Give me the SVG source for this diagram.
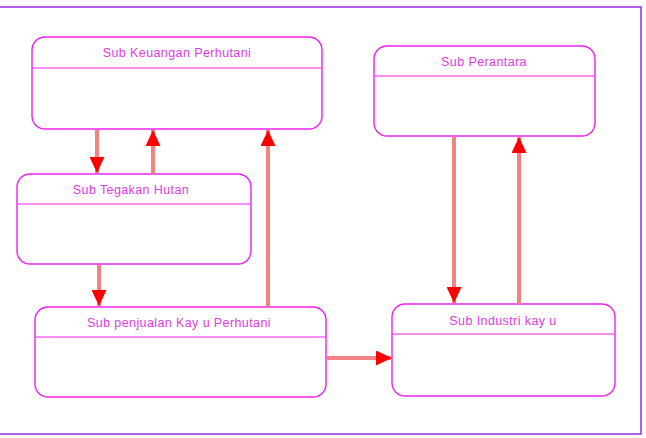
<svg xmlns="http://www.w3.org/2000/svg" width="646" height="438" viewBox="0 0 646 438">
<style>
.node rect{fill:#fff;stroke:#ee22ee;stroke-width:1.4}
.node line{stroke:#ee22ee;stroke-width:1.2}
.node text{font-family:"Liberation Sans",Arial,sans-serif;font-size:12.5px;letter-spacing:0.4px;fill:#e03ce0;text-anchor:middle}
.conn line{stroke:#f58282;stroke-width:4}
</style>
<defs>
<marker id="ah" viewBox="0 0 16 15" refX="16" refY="7.5" markerWidth="16" markerHeight="15" markerUnits="userSpaceOnUse" orient="auto">
<path d="M0,0 L16,7.5 L0,15 Z" fill="#ff0000"/>
</marker>
</defs>
<rect width="646" height="438" fill="#fff"/>
<path d="M0,7 H641 V434 H0" fill="none" stroke="#9b2be0" stroke-width="1.5"/>
<g id="n1" class="node">
<rect x="32" y="37" width="290" height="92" rx="13"/>
<line x1="32" y1="68" x2="322" y2="68"/>
<text x="177" y="57">Sub Keuangan Perhutani</text>
</g>
<g id="n2" class="node">
<rect x="374" y="46" width="221" height="90" rx="13"/>
<line x1="374" y1="76" x2="595" y2="76"/>
<text x="484" y="66">Sub Perantara</text>
</g>
<g id="n3" class="node">
<rect x="17" y="174" width="234" height="90" rx="13"/>
<line x1="17" y1="204" x2="251" y2="204"/>
<text x="131" y="194">Sub Tegakan Hutan</text>
</g>
<g id="n4" class="node">
<rect x="35" y="307" width="291" height="90" rx="13"/>
<line x1="35" y1="337" x2="326" y2="337"/>
<text x="179" y="327">Sub penjualan Kay u Perhutani</text>
</g>
<g id="n5" class="node">
<rect x="392" y="304" width="223" height="92" rx="13"/>
<line x1="392" y1="334" x2="615" y2="334"/>
<text x="503" y="325">Sub Industri kay u</text>
</g>
<g id="connectors" class="conn">
<line x1="97" y1="130" x2="97" y2="173" marker-end="url(#ah)"/>
<line x1="153" y1="174" x2="153" y2="130" marker-end="url(#ah)"/>
<line x1="268" y1="307" x2="268" y2="130" marker-end="url(#ah)"/>
<line x1="99" y1="265" x2="99" y2="306" marker-end="url(#ah)"/>
<line x1="454" y1="137" x2="454" y2="303" marker-end="url(#ah)"/>
<line x1="519" y1="304" x2="519" y2="137" marker-end="url(#ah)"/>
<line x1="327" y1="358" x2="392" y2="358" marker-end="url(#ah)"/>
</g>
</svg>
